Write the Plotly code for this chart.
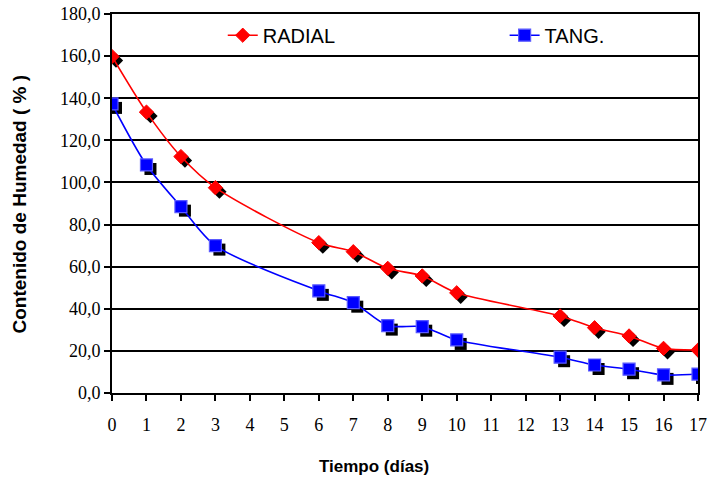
import plotly.graph_objects as go

dias = [0, 1, 2, 3, 6, 7, 8, 9, 10, 13, 14, 15, 16, 17]
radial = [159.8, 133.4, 112.3, 97.5, 71.4, 67.1, 59.2, 55.6, 47.6, 36.6, 31.0, 27.1, 21.2, 20.4]
tang = [137.3, 108.3, 88.5, 70.0, 48.5, 42.9, 32.0, 31.5, 25.2, 17.0, 13.3, 11.3, 8.6, 9.0]
x_ticks = list(range(0, 18))
y_ticks = [0, 20, 40, 60, 80, 100, 120, 140, 160, 180]
y_ticktext = ["0,0", "20,0", "40,0", "60,0", "80,0", "100,0", "120,0", "140,0", "160,0", "180,0"]

X_RANGE = [0, 17]
Y_RANGE = [0, 180]
# shadow offset (pixel-based shift of the shadow axes)
W_PX, H_PX = 586, 379
DX = 4 * (X_RANGE[1] - X_RANGE[0]) / W_PX
DY = 4 * (Y_RANGE[1] - Y_RANGE[0]) / H_PX

fig = go.Figure()

# shadows (black, offset down-right) on base axes
for ys, sym, sz in [(radial, "diamond", 11), (tang, "square", 12)]:
    fig.add_trace(go.Scatter(
        x=dias, y=ys, mode="markers", xaxis="x", yaxis="y", showlegend=False,
        hoverinfo="skip",
        marker=dict(symbol=sym, size=sz, color="black", line=dict(width=0))))

fig.add_trace(go.Scatter(
    x=dias, y=radial, name="RADIAL", mode="lines+markers", xaxis="x2", yaxis="y2",
    legend="legend",
    line=dict(color="#ff0000", width=1.6, shape="spline", smoothing=0.8),
    marker=dict(symbol="diamond", size=11, color="#ff0000", line=dict(color="#ff0000", width=1))))
fig.add_trace(go.Scatter(
    x=dias, y=tang, name="TANG.", mode="lines+markers", xaxis="x2", yaxis="y2",
    legend="legend2",
    line=dict(color="#0000ff", width=1.6, shape="spline", smoothing=0.8),
    marker=dict(symbol="square", size=12, color="#0000ff", line=dict(color="#5a5aff", width=1.2))))

SERIF = "Liberation Serif, Times New Roman, serif"
legfont = dict(family="Liberation Sans, Arial", size=20, color="black")
tickfont = dict(family=SERIF, size=18, color="black")
titlefont = dict(family="Liberation Sans, Arial", size=17, color="black")

fig.update_layout(
    width=709, height=479,
    margin=dict(l=112, r=11, t=14, b=86),
    paper_bgcolor="white", plot_bgcolor="white",
    font=dict(family=SERIF, size=18, color="black"),
    showlegend=True,
    legend=dict(x=0.189, xanchor="left", y=0.944, yanchor="middle",
                font=legfont, bgcolor="rgba(0,0,0,0)"),
    legend2=dict(x=0.670, xanchor="left", y=0.944, yanchor="middle",
                 font=legfont, bgcolor="rgba(0,0,0,0)"),
    xaxis=dict(range=[X_RANGE[0] - DX, X_RANGE[1] - DX], visible=False,
               showgrid=False, zeroline=False, automargin=False),
    yaxis=dict(range=[Y_RANGE[0] + DY, Y_RANGE[1] + DY], visible=False,
               showgrid=False, zeroline=False, automargin=False, tickfont=tickfont),
    xaxis2=dict(overlaying="x", anchor="y2", range=X_RANGE, tickmode="array", tickvals=x_ticks,
                ticktext=[str(v) for v in x_ticks], automargin=False,
                showgrid=False, zeroline=False, showline=True, linecolor="black", linewidth=2,
                mirror=True, ticks="outside", ticklen=6, tickwidth=1.5, tickcolor="black",
                tickfont=tickfont, ticklabelstandoff=8),
    yaxis2=dict(overlaying="y", anchor="x2", side="left", range=Y_RANGE, tickmode="array",
                tickvals=y_ticks, ticktext=y_ticktext, automargin=False,
                showgrid=True, gridcolor="black", gridwidth=1.5, zeroline=False,
                showline=True, linecolor="black", linewidth=2, mirror=True,
                ticks="outside", ticklen=6, tickwidth=1.5, tickcolor="black",
                tickfont=tickfont),
    annotations=[
        dict(text="<b>Tiempo (días)</b>", xref="paper", yref="paper", x=0.447, y=-0.193,
             xanchor="center", yanchor="middle", showarrow=False, font=titlefont),
        dict(text="<b>Contenido de Humedad ( % )</b>", xref="paper", yref="paper",
             x=-0.157, y=0.5, xanchor="center", yanchor="middle", textangle=-90,
             showarrow=False, font=dict(family="Liberation Sans, Arial", size=19, color="black")),
    ],
)

fig.write_html("out.html")
